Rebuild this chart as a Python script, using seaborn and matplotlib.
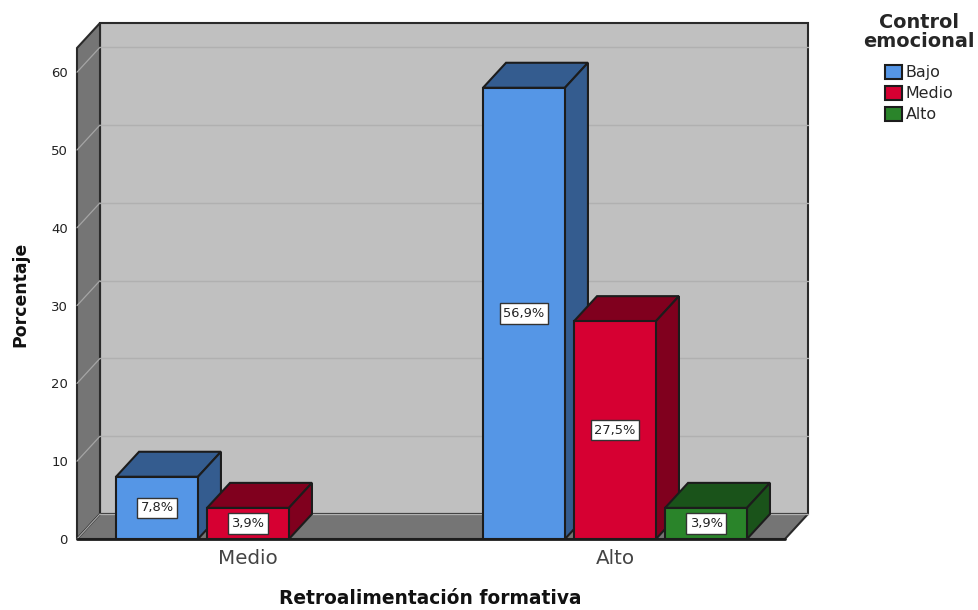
import matplotlib
matplotlib.use("Agg")
import matplotlib.pyplot as plt
from matplotlib.patches import Polygon
import pandas as pd
import seaborn as sns

groups = ["Medio", "Medio", "Alto", "Alto", "Alto"]
levels = ["Bajo", "Medio", "Bajo", "Medio", "Alto"]
# heights as drawn against the axis, the printed labels read a bit lower
heights = [8.0, 4.0, 58.0, 28.0, 4.0]
labels = ["7,8%", "3,9%", "56,9%", "27,5%", "3,9%"]
group_order = ["Medio", "Alto"]
level_order = ["Bajo", "Medio", "Alto"]
front_colors = ["#5596E6", "#D60032", "#2A842A"]
side_colors = ["#345C8F", "#80001E", "#1A531A"]
y_ticks = [0, 10, 20, 30, 40, 50, 60]

W, H = 979, 610
EDGE = "#1c1c1c"

df = pd.DataFrame({"grupo": groups, "nivel": levels, "valor": heights})

sns.set_theme(style="white")
plt.rcParams["font.family"] = ["DejaVu Sans"]

fig = plt.figure(figsize=(W / 100, H / 100), dpi=100)
ax = fig.add_axes([77 / W, 1 - 539 / H, (785 - 77) / W, (539 - 48) / H])

sns.barplot(data=df, x="grupo", y="valor", hue="nivel", order=group_order,
            hue_order=level_order, palette=front_colors, saturation=1, width=0.744, gap=0.1,
            edgecolor=EDGE, linewidth=1.5, ax=ax, zorder=5)

x_left, x_right = (77 - 248) / 367, (785 - 248) / 367
y_top = (539 - 48) / 7.78
ax.set_xlim(x_left, x_right)
ax.set_ylim(0, y_top)

# depth of the fake 3d box, in data units
dx = 23 / 367
dy = 25 / 7.78

wall_left = [(x_left, 0), (x_left + dx, dy), (x_left + dx, y_top + dy), (x_left, y_top)]
floor = [(x_left, 0), (x_right, 0), (x_right + dx, dy), (x_left + dx, dy)]
wall_back = [(x_left + dx, dy), (x_right + dx, dy), (x_right + dx, y_top + dy), (x_left + dx, y_top + dy)]
for pts, col in [(wall_back, "#C0C0C0"), (wall_left, "#757575"), (floor, "#757575")]:
    ax.add_patch(Polygon(pts, closed=True, facecolor=col, edgecolor="#2a2a2a",
                         linewidth=1.5, clip_on=False, zorder=1))

for t in y_ticks:
    ax.plot([x_left + dx, x_right + dx], [t + dy, t + dy], color="#B0B0B0", lw=1.0, clip_on=False, zorder=2)
    ax.plot([x_left, x_left + dx], [t, t + dy], color="#A5A5A5", lw=0.9, clip_on=False, zorder=2)
ax.plot([x_left, x_right], [0, 0], color=EDGE, lw=2, clip_on=False, zorder=3)

# top and side faces, bars go left to right so the next one covers the last side
bars = [p for c in ax.containers for p in c if p.get_height() > 0]
bars = sorted(bars, key=lambda p: p.get_x())
for i, (bar, label) in enumerate(zip(bars, labels)):
    x0, w, h = bar.get_x(), bar.get_width(), bar.get_height()
    k = level_order.index(levels[i])
    z = 5 + i
    bar.set_zorder(z + 0.2)
    top = [(x0, h), (x0 + w, h), (x0 + w + dx, h + dy), (x0 + dx, h + dy)]
    side = [(x0 + w, 0), (x0 + w + dx, dy), (x0 + w + dx, h + dy), (x0 + w, h)]
    for pts in (top, side):
        ax.add_patch(Polygon(pts, closed=True, facecolor=side_colors[k], edgecolor=EDGE,
                             linewidth=1.5, clip_on=False, zorder=z))
    ax.text(x0 + w / 2, h / 2, label, ha="center", va="center", fontsize=9.4,
            color="#222222", zorder=z + 0.5,
            bbox=dict(boxstyle="square,pad=0.28", facecolor="white", edgecolor="#333333", linewidth=1))

sns.despine(ax=ax, left=True, bottom=True)
ax.set_yticks(y_ticks)
ax.tick_params(axis="y", length=0, pad=6.5, labelsize=9.5, labelcolor="#222222")
ax.tick_params(axis="x", length=0, pad=7.5, labelsize=14.3, labelcolor="#444444")
ax.set_xlabel("")
ax.set_ylabel("")
fig.text(430 / W, 1 - 598 / H, "Retroalimentación formativa", ha="center", va="center",
         fontsize=13.4, fontweight="bold", color="#111111")
fig.text(20 / W, 1 - 294 / H, "Porcentaje", ha="center", va="center", rotation=90,
         fontsize=12.4, fontweight="bold", color="#111111")

handles = ax.get_legend_handles_labels()[0]
leg = ax.legend(handles, level_order, title="Control\nemocional", loc="upper center",
                bbox_to_anchor=(919 / W, 1 - 0 / H), bbox_transform=fig.transFigure,
                frameon=False, fontsize=11.4, handlelength=1.12, handleheight=1.0,
                handletextpad=0.22, labelspacing=0.36, borderpad=0.3,
                title_fontproperties={"weight": "bold", "size": 13.9})
leg.get_title().set_linespacing(1.0)
leg.get_title().set_ha("center")
leg.set_zorder(20)
leg._legend_box.sep = 10

fig.savefig("out.png", dpi=100)
